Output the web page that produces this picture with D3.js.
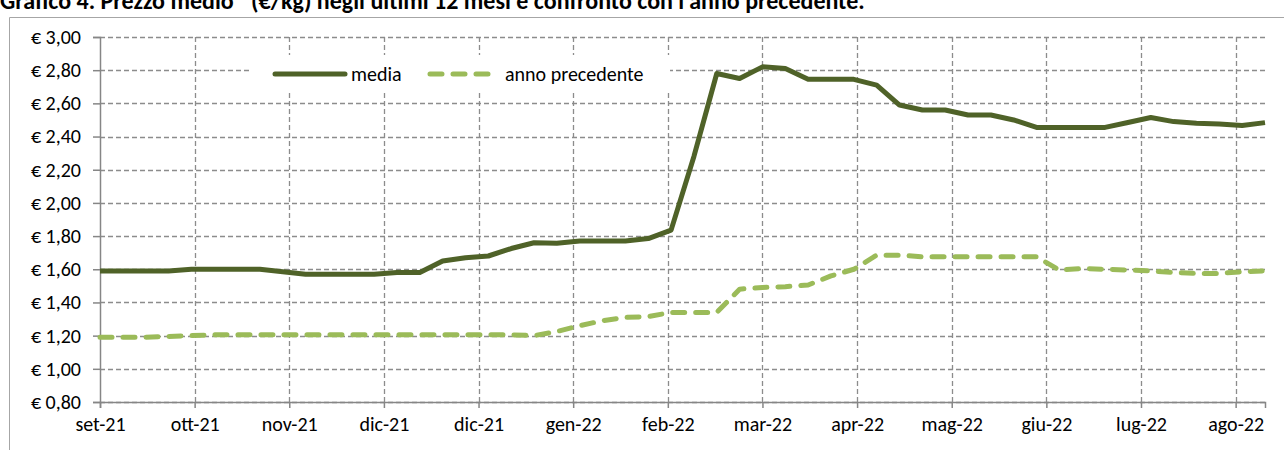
<!DOCTYPE html>
<html>
<head>
<meta charset="utf-8">
<script src="https://cdn.jsdelivr.net/npm/d3@7"></script>
<style>
  body { margin: 0; background: #fff; }
  svg { display: block; font-family: Calibri, Carlito, Lato, sans-serif; }
</style>
</head>
<body>
<script>
// weekly survey dates (x categories)
const weeks = [
  "2021-09-06", "2021-09-13", "2021-09-20", "2021-09-27", "2021-10-04", "2021-10-11", "2021-10-18", "2021-10-25",
  "2021-11-01", "2021-11-08", "2021-11-15", "2021-11-22", "2021-11-29", "2021-12-06", "2021-12-13", "2021-12-20",
  "2021-12-27", "2022-01-03", "2022-01-10", "2022-01-17", "2022-01-24", "2022-01-31", "2022-02-07", "2022-02-14",
  "2022-02-21", "2022-02-28", "2022-03-07", "2022-03-14", "2022-03-21", "2022-03-28", "2022-04-04", "2022-04-11",
  "2022-04-18", "2022-04-25", "2022-05-02", "2022-05-09", "2022-05-16", "2022-05-23", "2022-05-30", "2022-06-06",
  "2022-06-13", "2022-06-20", "2022-06-27", "2022-07-04", "2022-07-11", "2022-07-18", "2022-07-25", "2022-08-01",
  "2022-08-08", "2022-08-15", "2022-08-22", "2022-08-29"
];

// prezzo medio (€/kg)
const media = [
  1.59, 1.59, 1.59, 1.59, 1.60, 1.60, 1.60, 1.60, 1.585, 1.57, 1.57, 1.57, 1.57, 1.58, 1.58, 1.65,
  1.67, 1.68, 1.725, 1.76, 1.757, 1.77, 1.77, 1.77, 1.785, 1.836, 2.28, 2.78, 2.75, 2.82, 2.81, 2.745,
  2.745, 2.745, 2.71, 2.59, 2.56, 2.56, 2.53, 2.53, 2.50, 2.455, 2.455, 2.455, 2.455, 2.485, 2.515, 2.49,
  2.48, 2.475, 2.466, 2.484
];

// anno precedente (€/kg)
const annoPrecedente = [
  1.19, 1.19, 1.19, 1.195, 1.20, 1.205, 1.205, 1.205, 1.205, 1.205, 1.205, 1.205, 1.205, 1.205, 1.205, 1.205,
  1.205, 1.205, 1.205, 1.20, 1.225, 1.26, 1.29, 1.31, 1.315, 1.34, 1.34, 1.34, 1.48, 1.49, 1.495, 1.505,
  1.56, 1.60, 1.685, 1.685, 1.675, 1.675, 1.675, 1.675, 1.675, 1.675, 1.595, 1.605, 1.60, 1.595, 1.59, 1.58,
  1.575, 1.575, 1.585, 1.59
];

const tickLabels = ["set-21", "ott-21", "nov-21", "dic-21", "dic-21", "gen-22", "feb-22",
  "mar-22", "apr-22", "mag-22", "giu-22", "lug-22", "ago-22"];
const yTicks = [0.8, 1.0, 1.2, 1.4, 1.6, 1.8, 2.0, 2.2, 2.4, 2.6, 2.8, 3.0];

const seriesNames = ["media", "anno precedente"];
const colors = ["#4f6228", "#9bbb59"];

const W = 1284, H = 450;
const margin = { top: 37, right: 19, bottom: 48, left: 100 };
const width = W - margin.left - margin.right;
const height = H - margin.top - margin.bottom;

const parse = d3.timeParse("%Y-%m-%d");
const dates = weeks.map(parse);
// axis ticks every 29 days starting from the first week
const tickDates = tickLabels.map((l, i) => d3.timeDay.offset(dates[0], 29 * i));

const svgRoot = d3.select("body").append("svg")
  .attr("width", W)
  .attr("height", H);

// title (cut at the top in the original)
svgRoot.append("text")
  .attr("x", 0)
  .attr("y", 9)
  .style("font-weight", "bold")
  .style("font-size", "24px")
  .text("Grafico 4. Prezzo medio* (€/kg) negli ultimi 12 mesi e confronto con l'anno precedente.");

// chart area border
svgRoot.append("path")
  .attr("d", "M9.5," + H + "V17.5H" + W)
  .attr("fill", "none")
  .attr("stroke", "#a6a6a6")
  .attr("stroke-width", 1);

const svg = svgRoot.append("g")
  .attr("transform", "translate(" + margin.left + "," + margin.top + ")");

const x = d3.scaleTime()
  .domain([dates[0], dates[dates.length - 1]])
  .range([0, width]);
const y = d3.scaleLinear()
  .domain([0.8, 3.0])
  .range([height, 0]);

const gridColor = "#8c8c8c";

// horizontal gridlines
svg.append("g")
  .selectAll("line")
  .data(yTicks)
  .enter().append("line")
  .attr("x1", 0)
  .attr("x2", width)
  .attr("y1", d => Math.round(y(d)) + 0.5)
  .attr("y2", d => Math.round(y(d)) + 0.5)
  .attr("stroke", gridColor)
  .attr("stroke-width", 1.3)
  .attr("stroke-dasharray", "5,3");

// vertical gridlines
svg.append("g")
  .selectAll("line")
  .data(tickDates.slice(1))
  .enter().append("line")
  .attr("x1", d => Math.round(x(d)) + 0.5)
  .attr("x2", d => Math.round(x(d)) + 0.5)
  .attr("y1", 0)
  .attr("y2", height)
  .attr("stroke", gridColor)
  .attr("stroke-width", 1.3)
  .attr("stroke-dasharray", "5,3");

// Y axis
const yAxis = svg.append("g")
  .call(d3.axisLeft(y)
    .tickValues(yTicks)
    .tickSize(7)
    .tickPadding(12)
    .tickFormat(d => "€ " + d3.format(".2f")(d).replace(".", ",")));

// X axis
const xAxis = svg.append("g")
  .attr("transform", "translate(0," + height + ")")
  .call(d3.axisBottom(x)
    .tickValues(tickDates)
    .tickSize(6)
    .tickPadding(9)
    .tickFormat((d, i) => tickLabels[i]));

[yAxis, xAxis].forEach(a => {
  a.select(".domain").attr("stroke", "#868686").attr("stroke-width", 1.5);
  a.selectAll(".tick line").attr("stroke", "#868686").attr("stroke-width", 1.5);
  a.selectAll("text")
    .attr("fill", "#000")
    .style("font-family", "Calibri, Carlito, Lato, sans-serif")
    .style("font-size", "20px");
});

// series lines
const line = d3.line()
  .x((d, i) => x(dates[i]))
  .y(d => y(d));

svg.append("path")
  .datum(annoPrecedente)
  .attr("fill", "none")
  .attr("stroke", colors[1])
  .attr("stroke-width", 5)
  .attr("stroke-linecap", "round")
  .attr("stroke-linejoin", "round")
  .attr("stroke-dasharray", "12,11")
  .attr("d", line);

svg.append("path")
  .datum(media)
  .attr("fill", "none")
  .attr("stroke", colors[0])
  .attr("stroke-width", 5)
  .attr("stroke-linejoin", "round")
  .attr("d", line);

// legend
const legend = svgRoot.append("g");
legend.append("rect")
  .attr("x", 250)
  .attr("y", 55)
  .attr("width", 420)
  .attr("height", 37)
  .attr("fill", "#fff");

const legendItems = [
  { x: 275, len: 70, dash: null },
  { x: 430, len: 63, dash: "12,11" }
];
legendItems.forEach((it, i) => {
  legend.append("line")
    .attr("x1", it.x)
    .attr("x2", it.x + it.len)
    .attr("y1", 74)
    .attr("y2", 74)
    .attr("stroke", colors[i])
    .attr("stroke-width", 5)
    .attr("stroke-linecap", "round")
    .attr("stroke-dasharray", it.dash);
  legend.append("text")
    .attr("x", it.x + it.len + (i === 0 ? 6 : 12))
    .attr("y", 74)
    .attr("dy", "0.35em")
    .style("font-size", "20px")
    .text(seriesNames[i]);
});
</script>
</body>
</html>
